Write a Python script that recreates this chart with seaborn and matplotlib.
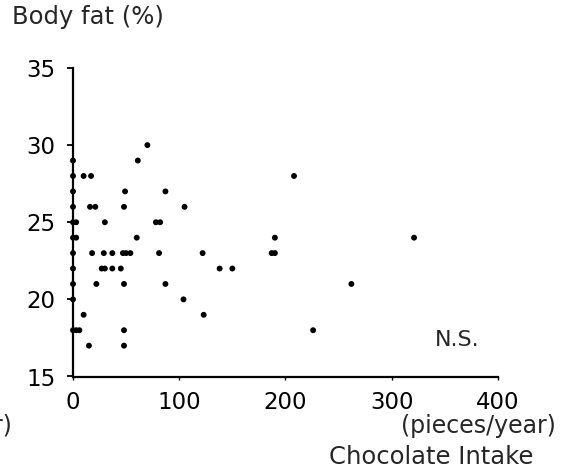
import matplotlib
matplotlib.use("Agg")
import matplotlib.pyplot as plt
import pandas as pd
import seaborn as sns

# 초콜릿 섭취량(pieces/year) 대 체지방률(%) - 그림에서 읽은 값
intake = [70,
          0, 61,
          0, 10, 17, 208,
          0, 49, 87,
          0, 16, 21, 48, 105,
          0, 3, 30, 78, 82,
          0, 3, 60, 190, 321,
          0, 18, 29, 37, 47, 50, 54, 81, 122, 187, 190,
          0, 27, 30, 37, 45, 138, 150,
          0, 22, 48, 87, 262,
          0, 104,
          10, 123,
          0, 3, 6, 48, 226,
          15, 48]
body_fat = [30,
            29, 29,
            28, 28, 28, 28,
            27, 27, 27,
            26, 26, 26, 26, 26,
            25, 25, 25, 25, 25,
            24, 24, 24, 24, 24,
            23, 23, 23, 23, 23, 23, 23, 23, 23, 23, 23,
            22, 22, 22, 22, 22, 22, 22,
            21, 21, 21, 21, 21,
            20, 20,
            19, 19,
            18, 18, 18, 18, 18,
            17, 17]
x_ticks = [0, 100, 200, 300, 400]
y_ticks = [15, 20, 25, 30, 35]

df = pd.DataFrame({"intake": intake, "fat": body_fat})

sns.set_style("white")
plt.rcParams['font.family'] = ['DejaVu Sans']

W, H = 565, 476
fig = plt.figure(figsize=(W / 100, H / 100), dpi=100)
ax = fig.add_axes([73 / W, 1 - 376.5 / H, (498 - 73) / W, (376.5 - 68) / H])

sns.scatterplot(data=df, x="intake", y="fat", color="black", s=18,
                edgecolor="none", ax=ax, clip_on=False, zorder=3)

ax.set_xlim(0, 400)
ax.set_ylim(15, 35)
ax.set_xticks(x_ticks)
ax.set_yticks(y_ticks)
ax.set_xlabel("")
ax.set_ylabel("")
sns.despine(ax=ax)
for side in ["left", "bottom"]:
    ax.spines[side].set_color("black")
    ax.spines[side].set_linewidth(1.6)

ax.tick_params(axis="y", direction="out", length=4.5, width=1.3,
               pad=8, labelsize=16.5, colors="black", left=True)
ax.tick_params(axis="x", direction="out", length=2.5, width=1.0,
               pad=8, labelsize=16.5, colors="black", bottom=True)

# 상단 축 제목, 오른쪽 하단 단위/라벨
fig.text(12 / W, 1 - 17 / H, "Body fat (%)", ha="left", va="center", fontsize=17.5)
fig.text(457 / W, 1 - 340 / H, "N.S.", ha="center", va="center", fontsize=16)
fig.text(556 / W, 1 - 426 / H, "(pieces/year)", ha="right", va="center", fontsize=17)
fig.text(431 / W, 1 - 457 / H, "Chocolate Intake", ha="center", va="center", fontsize=17.5)
# 왼쪽 가장자리에 잘린 이웃 패널의 단위 표기
fig.text(12 / W, 1 - 426 / H, "(pieces/year)", ha="right", va="center", fontsize=17)

fig.savefig("out.png", dpi=100)
